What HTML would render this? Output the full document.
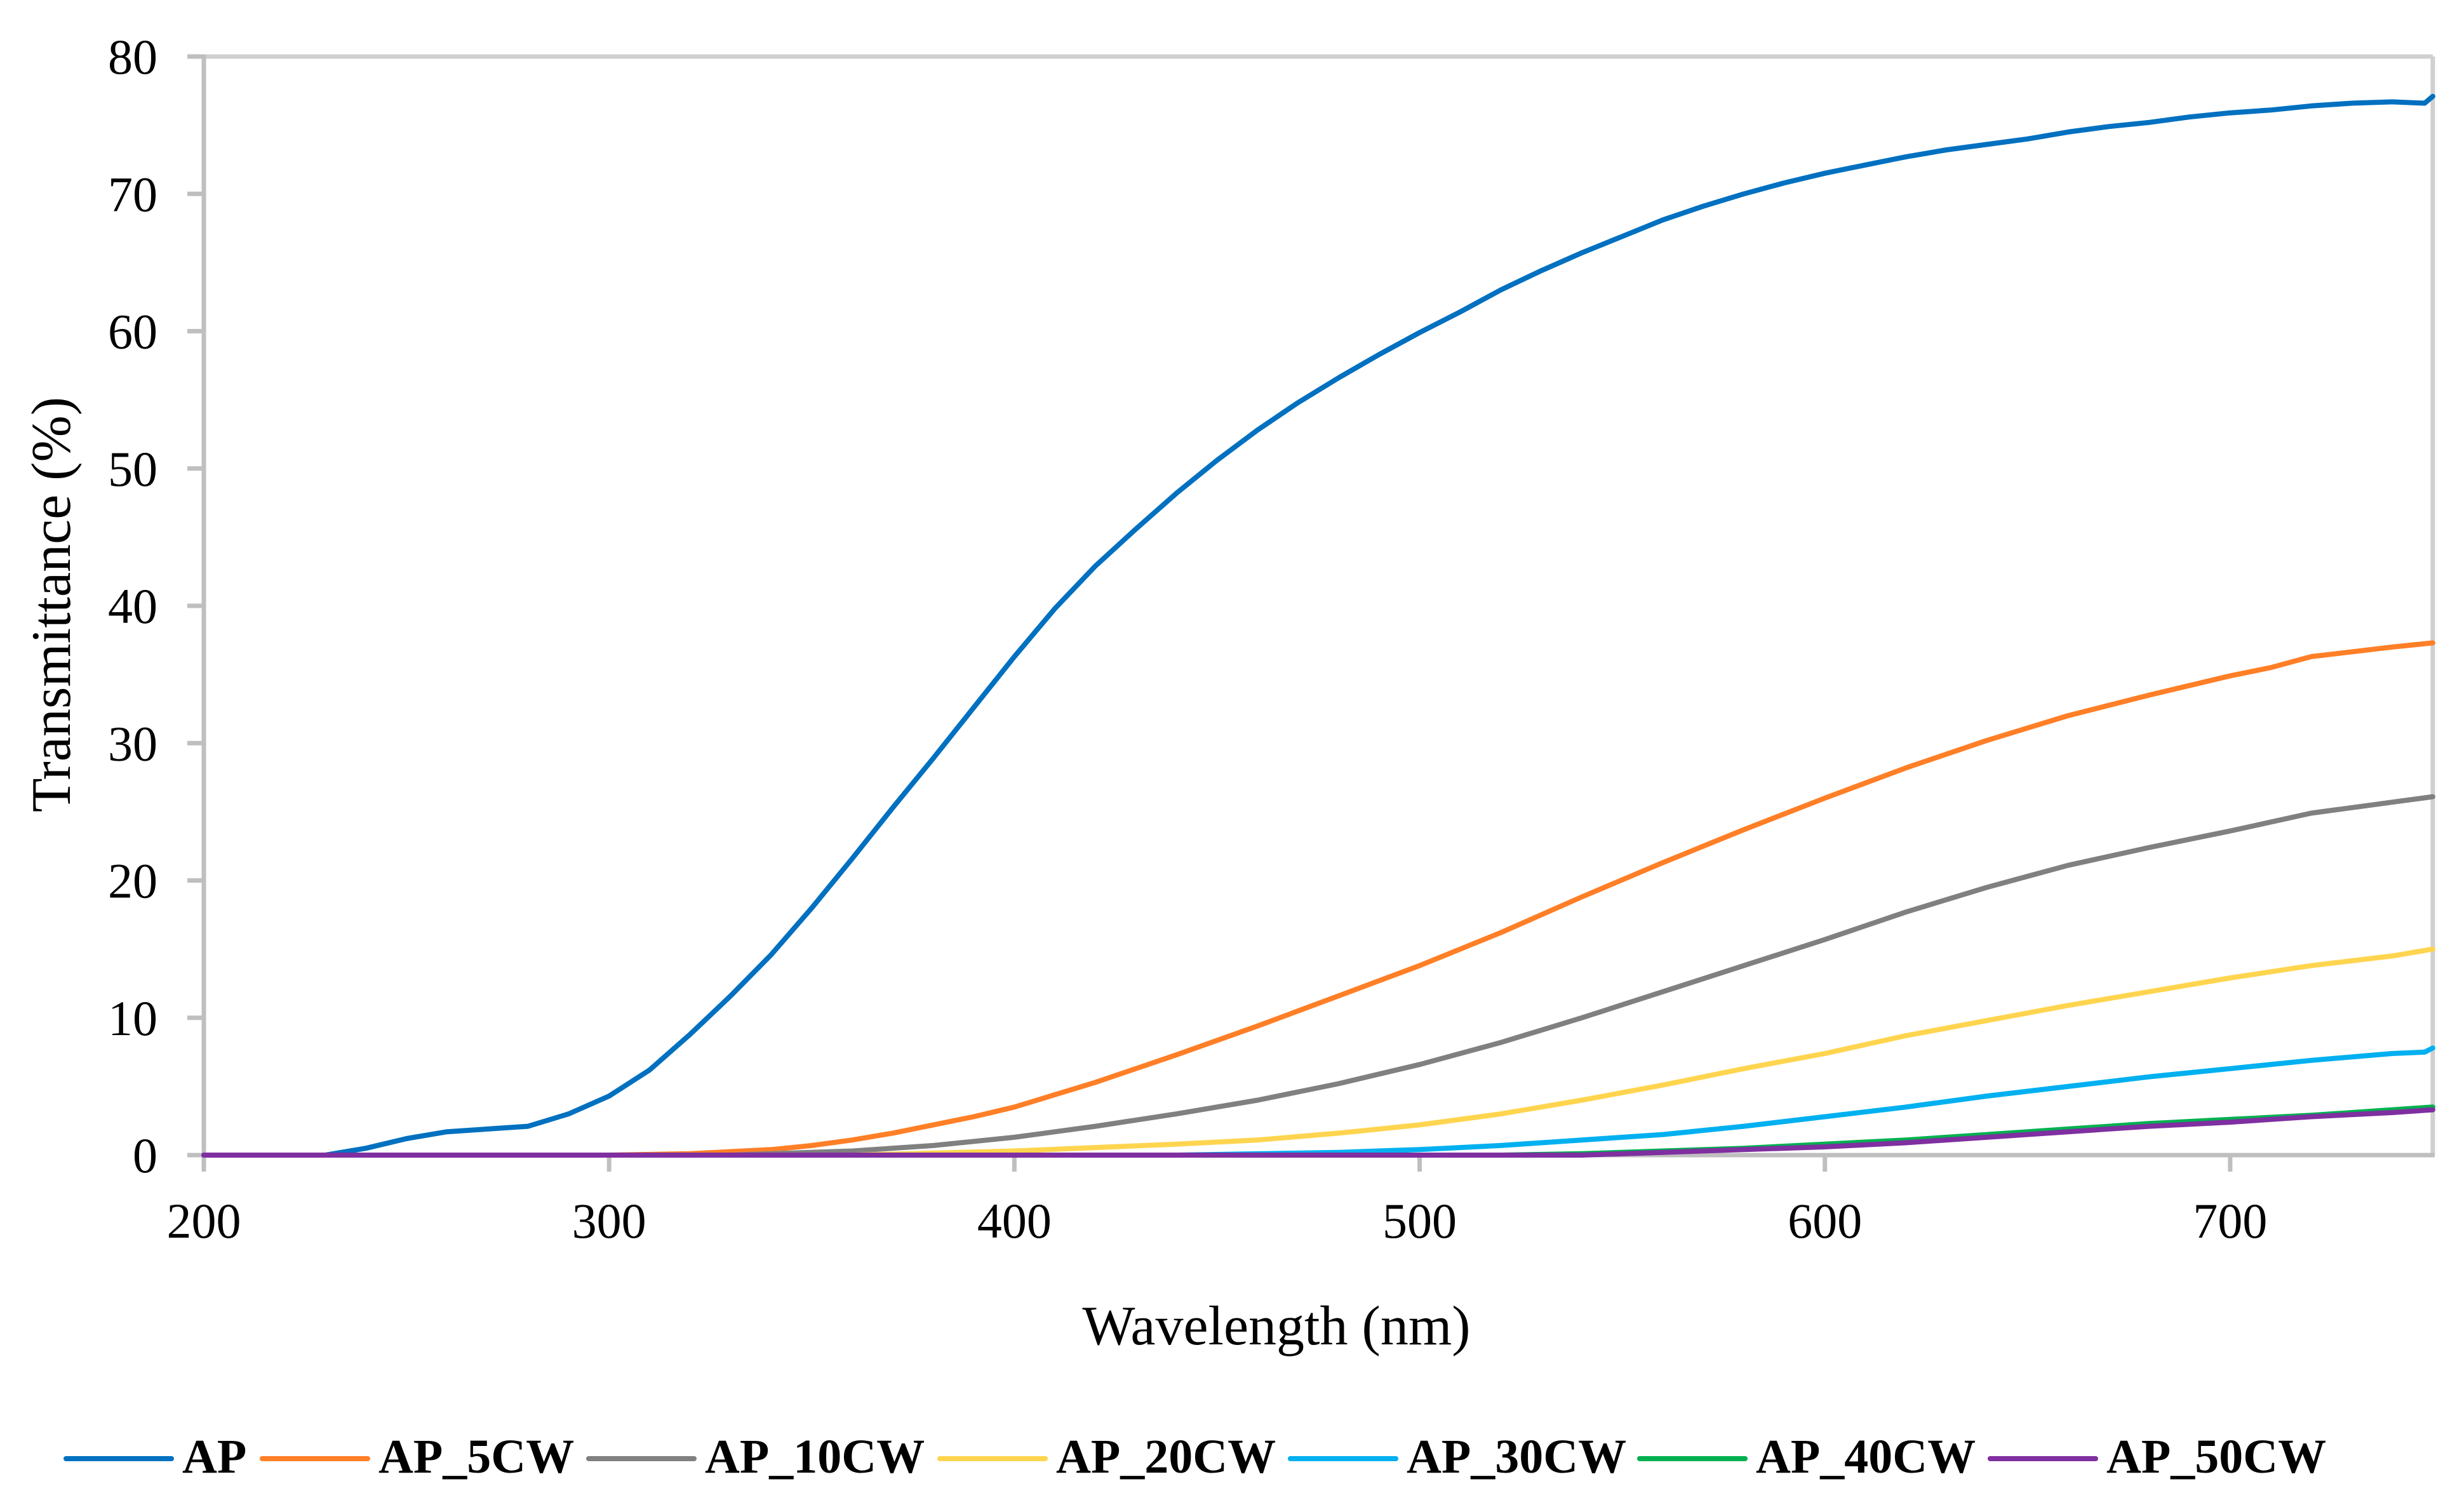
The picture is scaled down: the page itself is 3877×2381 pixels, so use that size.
<!DOCTYPE html>
<html><head><meta charset="utf-8"><style>
html,body{margin:0;padding:0;background:#fff;}
svg{display:block;}
text{font-family:"Liberation Serif",serif;fill:#000;}
</style></head><body>
<svg id="chart" width="3877" height="2381" viewBox="0 0 3877 2381" xmlns="http://www.w3.org/2000/svg">
<g id="grid"></g><g id="series"></g><g id="labels"></g><g id="legend"></g>
</svg>
<script>
const xTicks=[200,300,400,500,600,700];
const yTicks=[0,10,20,30,40,50,60,70,80];
const seriesNames=["AP","AP_5CW","AP_10CW","AP_20CW","AP_30CW","AP_40CW","AP_50CW"];
const seriesColors=["#0070c0","#ff7f27","#808080","#ffd54f","#00b0f0","#00b050","#7f2fa0"];
const apX=[200,230,240,250,260,270,280,290,300,310,320,330,340,350,360,370,380,390,400,410,420,430,440,450,460,470,480,490,500,510,520,530,540,550,560,570,580,590,600,610,620,630,640,650,660,670,680,690,700,710,720,730,740,748,750];
const apY=[0,0,0.5,1.2,1.7,1.9,2.1,3,4.3,6.2,8.8,11.6,14.6,18,21.6,25.3,28.9,32.6,36.3,39.8,42.9,45.6,48.2,50.6,52.8,54.8,56.6,58.3,59.9,61.4,63,64.4,65.7,66.9,68.1,69.1,70,70.8,71.5,72.1,72.7,73.2,73.6,74,74.5,74.9,75.2,75.6,75.9,76.1,76.4,76.6,76.7,76.6,77.1];
const cw5X=[200,300,320,340,350,360,370,380,390,400,420,440,460,480,500,520,540,560,580,600,620,640,660,680,700,710,720,740,750];
const cw5Y=[0,0,0.1,0.4,0.7,1.1,1.6,2.2,2.8,3.5,5.3,7.3,9.4,11.6,13.8,16.2,18.8,21.3,23.7,26,28.2,30.2,32,33.5,34.9,35.5,36.3,37,37.3];
const cw10X=[200,330,340,360,380,400,420,440,460,480,500,520,540,560,580,600,620,640,660,680,700,720,740,750];
const cw10Y=[0,0,0.1,0.3,0.7,1.3,2.1,3,4,5.2,6.6,8.2,10,11.9,13.8,15.7,17.7,19.5,21.1,22.4,23.6,24.9,25.7,26.1];
const cw20X=[200,360,400,440,460,480,500,520,540,560,580,600,620,640,660,680,700,720,740,750];
const cw20Y=[0,0,0.3,0.8,1.1,1.6,2.2,3,4,5.1,6.3,7.4,8.7,9.8,10.9,11.9,12.9,13.8,14.5,15];
const cw30X=[200,440,480,500,520,540,560,580,600,620,640,660,680,700,720,740,748,750];
const cw30Y=[0,0,0.2,0.4,0.7,1.1,1.5,2.1,2.8,3.5,4.3,5,5.7,6.3,6.9,7.4,7.5,7.8];
const cw40X=[200,520,540,560,580,600,620,640,660,680,700,720,740,750];
const cw40Y=[0,0,0.1,0.3,0.5,0.8,1.1,1.5,1.9,2.3,2.6,2.9,3.3,3.5];
const cw50X=[200,540,560,580,600,620,640,660,680,700,720,740,750];
const cw50Y=[0,0,0.2,0.4,0.6,0.9,1.3,1.7,2.1,2.4,2.8,3.1,3.3];
const allX=[apX,cw5X,cw10X,cw20X,cw30X,cw40X,cw50X];
const allY=[apY,cw5Y,cw10Y,cw20Y,cw30Y,cw40Y,cw50Y];

const L=321,R=3831,T=89,B=1819,X0=200,X1=750,Y0=0,Y1=80;
const sx=v=>L+(v-X0)/(X1-X0)*(R-L);
const sy=v=>B-(v-Y0)/(Y1-Y0)*(B-T);
const NS="http://www.w3.org/2000/svg";
function mk(tag,attrs,parent){const e=document.createElementNS(NS,tag);for(const k in attrs)e.setAttribute(k,attrs[k]);document.getElementById(parent).appendChild(e);return e;}

// frame
let f=mk('line',{x1:L,y1:T,x2:R,y2:T,stroke:'#d0d0d0','stroke-width':7},'grid');


f=mk('line',{x1:R,y1:T,x2:R,y2:B,stroke:'#d0d0d0','stroke-width':7},'grid');


f=mk('line',{x1:L,y1:T-3,x2:L,y2:B+26,stroke:'#bfbfbf','stroke-width':7},'grid');


f=mk('line',{x1:L-26,y1:B,x2:R+3,y2:B,stroke:'#bfbfbf','stroke-width':7},'grid');



yTicks.forEach(v=>{
  const t=mk('line',{x1:L-26,y1:sy(v),x2:L,y2:sy(v),stroke:'#bfbfbf','stroke-width':7},'grid');
  
  
  const tx=mk('text',{x:248,y:sy(v)+27,'text-anchor':'end','font-size':78},'labels');
  tx.textContent=v;
  
  
});
xTicks.forEach(v=>{
  const t=mk('line',{x1:sx(v),y1:B,x2:sx(v),y2:B+26,stroke:'#bfbfbf','stroke-width':7},'grid');
  
  
  const tx=mk('text',{x:sx(v),y:1949,'text-anchor':'middle','font-size':78},'labels');
  tx.textContent=v;
  
  
});
let at=mk('text',{x:2010,y:2117,'text-anchor':'middle','font-size':88},'labels');
at.textContent='Wavelength (nm)';


at=mk('text',{x:0,y:0,'text-anchor':'middle','font-size':88,transform:'translate(110,952) rotate(-90)'},'labels');
at.textContent='Transmittance (%)';



allX.forEach((xs,i)=>{
  const d=xs.map((x,j)=>(j?'L':'M')+sx(x).toFixed(1)+','+sy(allY[i][j]).toFixed(1)).join(' ');
  const p=mk('path',{d:d,fill:'none',stroke:seriesColors[i],'stroke-width':8,'stroke-linejoin':'round','stroke-linecap':'round'},'series');
  
  
});

const legX=[104,413,927,1480,2032,2582,3134];
seriesNames.forEach((n,i)=>{
  const g=mk('g',{},'legend');
  
  
  const ln=document.createElementNS(NS,'line');
  [['x1',legX[i]],['y1',2297],['x2',legX[i]+166],['y2',2297],['stroke',seriesColors[i]],['stroke-width',8],['stroke-linecap','round']].forEach(a=>ln.setAttribute(a[0],a[1]));
  
  
  g.appendChild(ln);
  const tx=document.createElementNS(NS,'text');
  tx.setAttribute('x',legX[i]+183);tx.setAttribute('y',2319);tx.setAttribute('font-size',76);tx.setAttribute('font-weight','bold');
  tx.textContent=n;
  
  
  g.appendChild(tx);
});
</script>
</body></html>
